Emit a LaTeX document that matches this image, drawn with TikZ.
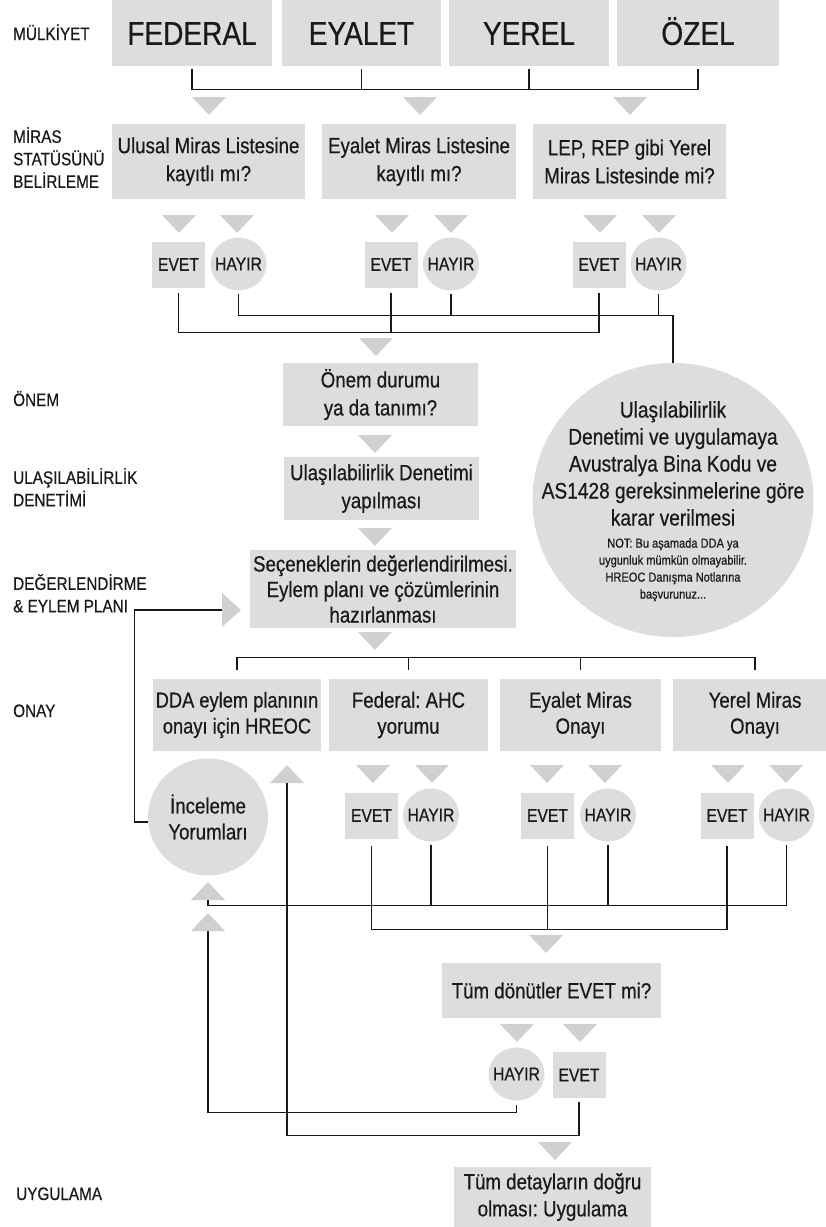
\documentclass[tikz,border=0pt]{standalone}
\usepackage{fontspec}
\setmainfont[FakeStretch=0.85,FakeBold=0.5]{Liberation Sans}
\usetikzlibrary{shapes.geometric,calc}
\definecolor{boxgray}{RGB}{221,221,221}
\definecolor{trigray}{RGB}{208,208,208}
\definecolor{ink}{RGB}{25,25,25}
\newcommand\TriDown[2]{\fill[trigray] ({#1-17},#2) -- ({#1+17},#2) -- (#1,{#2+18}) -- cycle;}
\newcommand\TriUp[2]{\fill[trigray] ({#1-17},{#2+18}) -- ({#1+17},{#2+18}) -- (#1,#2) -- cycle;}
\frenchspacing
\begin{document}
\begin{tikzpicture}[x=1pt,y=-1pt,
  gbox/.style={fill=boxgray, inner sep=0pt, align=center, text=ink, font=\fontsize{22}{28}\selectfont},
  bigbox/.style={fill=boxgray, inner sep=0pt, text=ink, font=\fontsize{33}{38}\selectfont, text height=23.6pt, text depth=0pt, minimum height=66pt},
  evetbox/.style={fill=boxgray, inner sep=0pt, text=ink, font=\fontsize{18.5}{20}\selectfont, minimum width=53pt, minimum height=46pt},
  hayirc/.style={ellipse, fill=boxgray, inner sep=0pt, text=ink, font=\fontsize{18.5}{20}\selectfont, minimum width=56pt, minimum height=53pt},
  lab/.style={inner sep=0pt, align=left, text=ink, font=\fontsize{18}{22.5}\selectfont},
  conn/.style={draw=ink, line width=1.1pt}]
\useasboundingbox (0,0) rectangle (826,1227);
\fill[white] (0,0) rectangle (826,1227);
\clip (0,0) rectangle (826,1227);

% labels
\node[lab, anchor=base west] (l1) at (13,40) {MÜLKİYET};
\node[lab, anchor=north west] (l2) at (13,127) {MİRAS\\STATÜSÜNÜ\\BELİRLEME};
\node[lab, anchor=base west] (l3) at (13,406) {ÖNEM};
\node[lab, anchor=north west] (l4) at (13,468) {ULAŞILABİLİRLİK\\DENETİMİ};
\node[lab, anchor=north west] (l5) at (13,574) {DEĞERLENDİRME\\\& EYLEM PLANI};
\node[lab, anchor=base west] (l6) at (13,717) {ONAY};
\node[lab, anchor=base west] (l7) at (16,1200) {UYGULAMA};

% row 1
\node[bigbox, minimum width=160pt] (fed) at (192,33) {FEDERAL};
\node[bigbox, minimum width=159pt] (eya) at (361.5,33) {EYALET};
\node[bigbox, minimum width=160pt] (yer) at (529,33) {YEREL};
\node[bigbox, minimum width=162pt] (oze) at (698,33) {ÖZEL};
\draw[conn] ([yshift=-3pt]fed.south) -- ++(0,20) -| ([yshift=-3pt]oze.south);
\draw[conn] ([yshift=-3pt]eya.south) -- ++(0,20);
\draw[conn] ([yshift=-3pt]yer.south) -- ++(0,20);
\TriDown{209}{97} \TriDown{420}{97} \TriDown{630}{97}

% row 2
\node[gbox, minimum width=193pt, minimum height=75pt] (q1) at (208.5,161.5) {Ulusal Miras Listesine\\kayıtlı mı?};
\node[gbox, minimum width=194pt, minimum height=75pt] (q2) at (419,161.5) {Eyalet Miras Listesine\\kayıtlı mı?};
\node[gbox, minimum width=193pt, minimum height=75pt] (q3) at (629.5,161.5) {LEP, REP gibi Yerel\\Miras Listesinde mi?};
\TriDown{179}{215} \TriDown{237}{215} \TriDown{392}{215} \TriDown{451}{215} \TriDown{600}{215} \TriDown{659}{215}

% row 3
\node[evetbox] (e1) at (178.5,264.5) {EVET};
\node[hayirc] (h1) at (238.5,264) {\makebox[0pt]{HAYIR}};
\node[evetbox] (e2) at (391,264.5) {EVET};
\node[hayirc] (h2) at (451,264) {\makebox[0pt]{HAYIR}};
\node[evetbox] (e3) at (599,264.5) {EVET};
\node[hayirc] (h3) at (658.5,264) {\makebox[0pt]{HAYIR}};

% big circle
\node[ellipse, fill=boxgray, minimum width=281pt, minimum height=274pt, inner sep=0pt] (acc) at (673,500) {};
\node[anchor=north, align=center, inner sep=0pt, text=ink, font=\fontsize{22.5}{27}\selectfont] (acct) at (673,401) {Ulaşılabilirlik\\Denetimi ve uygulamaya\\Avustralya Bina Kodu ve\\AS1428 gereksinmelerine göre\\karar verilmesi};
\node[anchor=north, align=center, inner sep=0pt, text=ink, font=\fontsize{13}{17}\selectfont] (accn) at (673,538) {NOT: Bu aşamada DDA ya\\uygunluk mümkün olmayabilir.\\HREOC Danışma Notlarına\\başvurunuz...};

\draw[conn] ([yshift=-5pt]e1.south) -- ++(0,40) -| ([yshift=-5pt]e3.south);
\draw[conn] ([yshift=-5pt]e2.south) -- ++(0,40);
\draw[conn] ([yshift=-3pt]h1.south) -- ++(0,22) -| (acc.north);
\draw[conn] ([yshift=-3pt]h2.south) -- ++(0,22);
\draw[conn] ([yshift=-3pt]h3.south) -- ++(0,22);
\TriDown{376}{338}

% middle column
\node[gbox, minimum width=195pt, minimum height=63pt] (onem) at (380.5,394.5) {Önem durumu\\ya da tanımı?};
\TriDown{375}{435}
\node[gbox, minimum width=195pt, minimum height=63pt] (ulas) at (381.5,488.5) {Ulaşılabilirlik Denetimi\\yapılması};
\TriDown{375}{528}
\node[gbox, minimum width=266pt, minimum height=78pt, font=\fontsize{22}{25.5}\selectfont] (sec) at (383,589) {Seçeneklerin değerlendirilmesi.\\Eylem planı ve çözümlerinin\\hazırlanması};
\TriDown{375}{632}
\fill[trigray] (222,593) -- (241,610) -- (222,627) -- cycle;
\coordinate (tr) at (222,610);

% row 4
\node[gbox, minimum width=168pt, minimum height=72pt, font=\fontsize{21.5}{26}\selectfont] (dda) at (237,715) {DDA eylem planının\\onayı için HREOC};
\node[gbox, minimum width=159pt, minimum height=72pt, font=\fontsize{22}{26}\selectfont] (fed2) at (408.5,715) {Federal: AHC\\yorumu};
\node[gbox, minimum width=161pt, minimum height=72pt, font=\fontsize{22}{26}\selectfont] (eya2) at (580.5,715) {Eyalet Miras\\Onayı};
\node[gbox, minimum width=164pt, minimum height=72pt, font=\fontsize{22}{26}\selectfont] (yer2) at (755,715) {Yerel Miras\\Onayı};
\draw[conn] ([yshift=9pt]dda.north) -- ++(0,-12) -| ([yshift=9pt]yer2.north);
\draw[conn] ([yshift=9pt]fed2.north) -- ++(0,-12);
\draw[conn] ([yshift=9pt]eya2.north) -- ++(0,-12);

\node[ellipse, fill=boxgray, minimum width=120pt, minimum height=117pt, inner sep=0pt, align=center, text=ink, font=\fontsize{22}{26}\selectfont] (inc) at (208,817) {İnceleme\\Yorumları};
\TriUp{287}{765}
\coordinate (tu3) at (287,783);

\TriDown{373}{765} \TriDown{432}{765} \TriDown{547}{765} \TriDown{605}{765} \TriDown{728}{765} \TriDown{786}{765}
\node[evetbox] (ev1) at (371.5,815.5) {EVET};
\node[hayirc] (hy1) at (431,815) {\makebox[0pt]{HAYIR}};
\node[evetbox] (ev2) at (547.5,815.5) {EVET};
\node[hayirc] (hy2) at (608,815) {\makebox[0pt]{HAYIR}};
\node[evetbox] (ev3) at (727,815.5) {EVET};
\node[hayirc] (hy3) at (786.5,815) {\makebox[0pt]{HAYIR}};

\TriUp{208}{882}
\coordinate (tu1) at (208,900);
\TriUp{208}{913}
\coordinate (tu2) at (208,931);

\draw[conn] ([yshift=-3pt]hy3.south) -- ++(0,61) -| (tu1);
\draw[conn] ([yshift=-3pt]hy1.south) -- ++(0,61);
\draw[conn] ([yshift=-3pt]hy2.south) -- ++(0,61);
\draw[conn] ([yshift=-7pt]ev1.south) -- ++(0,84) -| ([yshift=-7pt]ev3.south);
\draw[conn] ([yshift=-7pt]ev2.south) -- ++(0,84);
\TriDown{546}{935}

% bottom
\node[gbox, minimum width=219pt, minimum height=55pt] (tum) at (551.5,990.5) {Tüm dönütler EVET mi?};
\TriDown{517}{1024} \TriDown{580}{1024}
\node[hayirc] (th) at (516.5,1074) {\makebox[0pt]{HAYIR}};
\node[evetbox] (te) at (579,1075) {EVET};
\draw[conn] ([yshift=-4pt]th.south) -- ++(0,8) -| (tu2);
\draw[conn] ([yshift=-4pt]te.south) -- ++(0,33) -| (tu3);
\draw[conn] ([yshift=-5pt]inc.west) -- ++(-13,0) |- (tr);
\TriDown{555}{1142}
\node[gbox, minimum width=197pt, minimum height=60pt, font=\fontsize{22}{27}\selectfont] (uyg) at (552.5,1197) {Tüm detayların doğru\\olması: Uygulama};
\end{tikzpicture}
\end{document}
